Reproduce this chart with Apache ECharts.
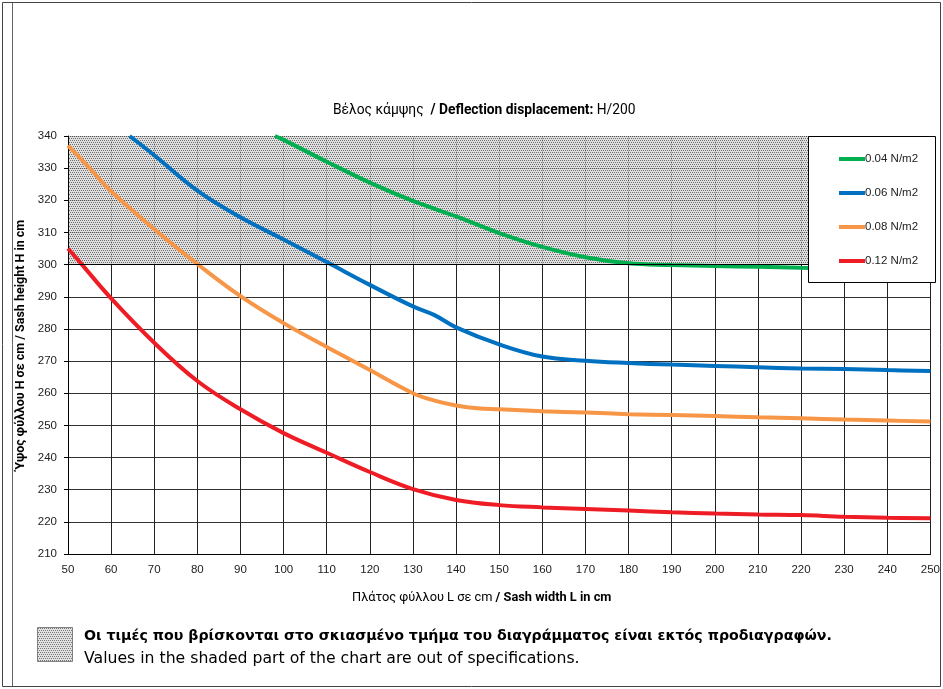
<!DOCTYPE html>
<html>
<head>
<meta charset="utf-8">
<script src="https://cdn.jsdelivr.net/npm/echarts@6/dist/echarts.min.js"></script>
<style>
  html, body { margin: 0; padding: 0; background: #fff; }
  #content { width: 943px; height: 689px; }
</style>
</head>
<body>
<div id="content"></div>
<script>
// Sash width L (cm) -> sash height H (cm)
let green04 = [[98, 340], [100, 338.8], [110, 332], [120, 325.5], [130, 319.8], [140, 315], [150, 309.8], [160, 305.5], [170, 302.3], [180, 300.4], [190, 299.9], [200, 299.6], [210, 299.3], [220, 299], [230, 298.8], [240, 298.6], [250, 298.4]];
let blue06 = [[64.3, 340], [70, 334], [80, 323], [90, 314.7], [100, 307.8], [110, 300.8], [120, 293.7], [130, 287], [135, 284.3], [140, 280.5], [150, 275.2], [160, 271.4], [170, 270.1], [180, 269.4], [190, 268.9], [200, 268.5], [210, 268.1], [220, 267.7], [230, 267.5], [240, 267.2], [250, 266.9]];
let orange08 = [[50, 337], [55, 330], [60, 322.8], [70, 311], [80, 300.2], [90, 290.2], [100, 281.8], [110, 274.4], [115, 270.8], [120, 267.2], [130, 260], [135, 257.7], [140, 256.2], [145, 255.3], [150, 255], [160, 254.4], [170, 254], [180, 253.5], [190, 253.2], [200, 252.9], [210, 252.5], [220, 252.2], [230, 251.8], [240, 251.5], [250, 251.2]];
let red12 = [[50, 305], [53, 300.4], [60, 289.5], [70, 275.7], [80, 263.8], [90, 255], [100, 247.6], [110, 241.5], [120, 235.5], [130, 230.2], [140, 226.8], [150, 225.2], [160, 224.5], [170, 224], [180, 223.5], [190, 223], [200, 222.6], [210, 222.3], [220, 222.1], [230, 221.6], [240, 221.3], [250, 221.1]];

let seriesNames = ["0.04 N/m2", "0.06 N/m2", "0.08 N/m2", "0.12 N/m2"];
let seriesColors = ["#00B050", "#0070C0", "#F79646", "#EE1C25"];
let shadedRange = [300, 340]; // out of specification

// dotted pattern for the shaded zone
let makeDots = () => {
  let c = document.createElement("canvas");
  c.width = 4;
  c.height = 4;
  let ctx = c.getContext("2d");
  ctx.fillStyle = "#dadada";
  ctx.fillRect(0, 0, 4, 4);
  ctx.fillStyle = "#555";
  ctx.fillRect(0, 0, 1, 1);
  ctx.fillRect(2, 0, 1, 1);
  ctx.fillRect(1, 2, 1, 1);
  ctx.fillRect(3, 2, 1, 1);
  return c;
};
let dots = makeDots();

let lineSeries = (name, data, color, extra) =>
  Object.assign(
    {
      name: name,
      type: "line",
      data: data,
      smooth: 0.4,
      symbol: "none",
      clip: true,
      lineStyle: { color: color, width: 4 },
      itemStyle: { color: color },
    },
    extra || {}
  );

let myChart = echarts.init(document.getElementById("content"));
myChart.setOption({
  animation: false,
  backgroundColor: "#fff",
  textStyle: { fontFamily: "Liberation Sans, Arial, sans-serif" },
  grid: { left: 68, right: 8, top: 136, bottom: 135 },
  legend: {
    orient: "vertical",
    left: 834,
    top: 148,
    itemWidth: 26,
    itemHeight: 4,
    itemGap: 22,
    icon: "rect",
    z: 20,
    data: seriesNames,
    textStyle: { fontSize: 11.5, color: "#222", padding: [0, 0, 0, -5] },
  },
  xAxis: {
    type: "value",
    min: 50,
    max: 250,
    interval: 10,
    axisLine: { lineStyle: { color: "#000", width: 1 } },
    axisTick: { show: false },
    splitLine: { show: true, lineStyle: { color: "#222", width: 1 } },
    axisLabel: { color: "#222", fontSize: 11.5, margin: 10 },
  },
  yAxis: {
    type: "value",
    min: 210,
    max: 340,
    interval: 10,
    name: "Ύψος φύλλου H σε cm / Sash height H in cm",
    nameLocation: "middle",
    nameGap: 41,
    nameTextStyle: { fontSize: 12.5, fontWeight: "bold", color: "#000", fontFamily: "Roboto" },
    axisLine: { show: true, lineStyle: { color: "#000", width: 1 } },
    axisTick: { show: true, length: 4, lineStyle: { color: "#000" } },
    splitLine: { show: true, lineStyle: { color: "#333", width: 1 } },
    axisLabel: { color: "#222", fontSize: 11.5, margin: 11 },
  },
  series: [
    lineSeries(seriesNames[0], green04, seriesColors[0], {
      markArea: {
        silent: true,
        z: 0,
        itemStyle: { color: { image: dots, repeat: "repeat" }, opacity: 0.85 },
        data: [[{ yAxis: shadedRange[0] }, { yAxis: shadedRange[1] }]],
      },
      markLine: {
        silent: true,
        symbol: "none",
        label: { show: false },
        lineStyle: { color: "#000", width: 1, type: "solid" },
        data: [{ yAxis: shadedRange[0] }],
      },
    }),
    lineSeries(seriesNames[1], blue06, seriesColors[1]),
    lineSeries(seriesNames[2], orange08, seriesColors[2]),
    lineSeries(seriesNames[3], red12, seriesColors[3]),
  ],
  graphic: [
    {
      type: "rect",
      z: 1,
      shape: { x: 2.5, y: 2.5, width: 938, height: 684 },
      style: { fill: null, stroke: "#444", lineWidth: 1 },
    },
    {
      type: "line",
      z: 1,
      shape: { x1: 12.5, y1: 3, x2: 12.5, y2: 686 },
      style: { stroke: "#666", lineWidth: 1 },
    },
    {
      type: "rect",
      z: 19,
      shape: { x: 808.5, y: 136.5, width: 127, height: 146 },
      style: { fill: "#fff", stroke: "#000", lineWidth: 1 },
    },
    {
      type: "text",
      x: 333,
      y: 104,
      style: {
        text: "{n|Βέλος κάμψης  }{b|/ Deflection displacement:} {n|H/200}",
        rich: {
          n: { fontSize: 13.8, fontFamily: "Roboto", color: "#000" },
          b: { fontSize: 13.8, fontFamily: "Roboto", fontWeight: "bold", color: "#000" },
        },
      },
    },
    {
      type: "text",
      x: 352,
      y: 591,
      style: {
        text: "{n|Πλάτος φύλλου L σε cm }{b|/ Sash width L in cm}",
        rich: {
          n: { fontSize: 12.8, fontFamily: "Roboto", color: "#000" },
          b: { fontSize: 12.8, fontFamily: "Roboto", fontWeight: "bold", color: "#000" },
        },
      },
    },
    {
      type: "rect",
      shape: { x: 37.5, y: 627.5, width: 35, height: 34 },
      style: { fill: { image: dots, repeat: "repeat" }, stroke: "#666", lineWidth: 1, opacity: 0.8 },
    },
    {
      type: "text",
      x: 84,
      y: 629,
      style: {
        text: "Οι τιμές που βρίσκονται στο σκιασμένο τμήμα του διαγράμματος είναι εκτός προδιαγραφών.",
        fontSize: 14.2,
        fontWeight: "bold",
        fontFamily: "DejaVu Sans",
        fill: "#000",
      },
    },
    {
      type: "text",
      x: 84,
      y: 651,
      style: {
        text: "Values in the shaded part of the chart are out of specifications.",
        fontSize: 15.7,
        fontFamily: "DejaVu Sans",
        fill: "#000",
      },
    },
  ],
});
window.addEventListener("resize", function () {
  myChart.resize();
});
</script>
</body>
</html>
